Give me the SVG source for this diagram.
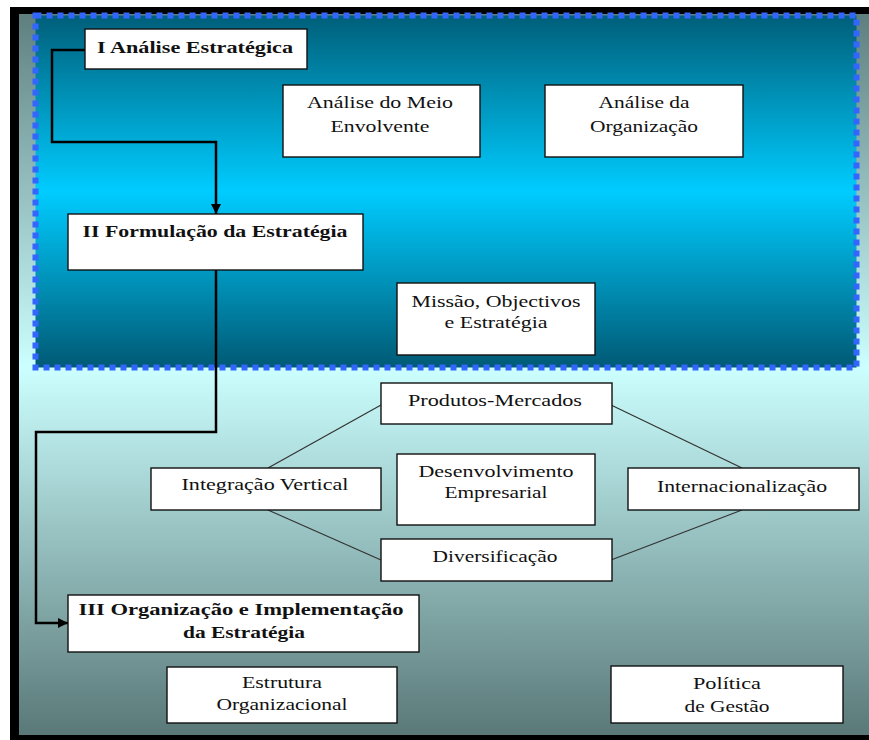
<svg xmlns="http://www.w3.org/2000/svg" width="869" height="740" viewBox="0 0 869 740">
<defs>
<linearGradient id="bg" x1="0" y1="14" x2="0" y2="735" gradientUnits="userSpaceOnUse">
<stop offset="0" stop-color="#5f7f7f"/>
<stop offset="0.49" stop-color="#ccffff"/>
<stop offset="1" stop-color="#5a7878"/>
</linearGradient>
<linearGradient id="top" x1="0" y1="16" x2="0" y2="367" gradientUnits="userSpaceOnUse">
<stop offset="0" stop-color="#005f7a"/>
<stop offset="0.5" stop-color="#00ccff"/>
<stop offset="1" stop-color="#005a75"/>
</linearGradient>
<marker id="arr" viewBox="0 0 10 10" refX="10" refY="5" markerWidth="10" markerHeight="10" markerUnits="userSpaceOnUse" orient="auto">
<path d="M0,0 L10,5 L0,10 Z" fill="#000"/>
</marker>
<style>
.box{fill:#fff;stroke:#111;stroke-width:1.4}
.t{font-size:17px;fill:#111;text-anchor:middle}
.b{font-weight:bold}
.flow{fill:none;stroke:#000;stroke-width:2.5}
.thin{fill:none;stroke:#333;stroke-width:1.2}
</style>
</defs>
<rect x="10" y="7" width="859" height="733" fill="#000"/>
<rect x="19" y="14" width="850" height="721" fill="url(#bg)"/>
<rect x="35.5" y="15.5" width="821" height="352" fill="url(#top)" stroke="#3366ff" stroke-width="6" stroke-dasharray="6 5"/>

<g id="connectors">
<path class="flow" d="M85,50 H52 V142 H216 V214" marker-end="url(#arr)"/>
<path class="flow" d="M216,269 V432 H36 V623 H68" marker-end="url(#arr)"/>
<line class="thin" x1="381" y1="405" x2="268" y2="468"/>
<line class="thin" x1="611" y1="405" x2="742" y2="468"/>
<line class="thin" x1="268" y1="510" x2="381" y2="560"/>
<line class="thin" x1="611" y1="560" x2="742" y2="510"/>
</g>

<g font-family="'Liberation Serif', 'DejaVu Serif', 'Times New Roman', serif">
<g id="n1"><rect class="box" x="85" y="29" width="222" height="40"/>
<text class="t b" x="195" y="53" textLength="196" lengthAdjust="spacingAndGlyphs">I Análise Estratégica</text></g>
<g id="n2"><rect class="box" x="283" y="85" width="197" height="72"/>
<text class="t" x="380" y="108" textLength="146" lengthAdjust="spacingAndGlyphs">Análise do Meio</text>
<text class="t" x="380" y="132" textLength="99" lengthAdjust="spacingAndGlyphs">Envolvente</text></g>
<g id="n3"><rect class="box" x="545" y="85" width="198" height="72"/>
<text class="t" x="644" y="108" textLength="91" lengthAdjust="spacingAndGlyphs">Análise da</text>
<text class="t" x="644" y="132" textLength="108" lengthAdjust="spacingAndGlyphs">Organização</text></g>
<g id="n4"><rect class="box" x="68" y="214" width="295" height="56"/>
<text class="t b" x="215" y="237" textLength="265" lengthAdjust="spacingAndGlyphs">II Formulação da Estratégia</text></g>
<g id="n5"><rect class="box" x="397" y="283" width="198" height="72"/>
<text class="t" x="496" y="307" textLength="169" lengthAdjust="spacingAndGlyphs">Missão, Objectivos</text>
<text class="t" x="496" y="328" textLength="103" lengthAdjust="spacingAndGlyphs">e Estratégia</text></g>
<g id="n6"><rect class="box" x="381" y="383" width="231" height="41"/>
<text class="t" x="495" y="406" textLength="174" lengthAdjust="spacingAndGlyphs">Produtos-Mercados</text></g>
<g id="n7"><rect class="box" x="151" y="468" width="230" height="42"/>
<text class="t" x="265" y="490" textLength="167" lengthAdjust="spacingAndGlyphs">Integração Vertical</text></g>
<g id="n8"><rect class="box" x="397" y="454" width="198" height="71"/>
<text class="t" x="496" y="477" textLength="155" lengthAdjust="spacingAndGlyphs">Desenvolvimento</text>
<text class="t" x="496" y="498" textLength="103" lengthAdjust="spacingAndGlyphs">Empresarial</text></g>
<g id="n9"><rect class="box" x="628" y="468" width="231" height="42"/>
<text class="t" x="742" y="492" textLength="170" lengthAdjust="spacingAndGlyphs">Internacionalização</text></g>
<g id="n10"><rect class="box" x="381" y="539" width="231" height="42"/>
<text class="t" x="495" y="562" textLength="125" lengthAdjust="spacingAndGlyphs">Diversificação</text></g>
<g id="n11"><rect class="box" x="68" y="595" width="351" height="57"/>
<text class="t b" x="241" y="615" textLength="325" lengthAdjust="spacingAndGlyphs">III Organização e Implementação</text>
<text class="t b" x="244" y="638" textLength="122" lengthAdjust="spacingAndGlyphs">da Estratégia</text></g>
<g id="n12"><rect class="box" x="167" y="667" width="230" height="56"/>
<text class="t" x="282" y="688" textLength="80" lengthAdjust="spacingAndGlyphs">Estrutura</text>
<text class="t" x="282" y="710" textLength="131" lengthAdjust="spacingAndGlyphs">Organizacional</text></g>
<g id="n13"><rect class="box" x="611" y="666" width="232" height="57"/>
<text class="t" x="727" y="689" textLength="68" lengthAdjust="spacingAndGlyphs">Política</text>
<text class="t" x="727" y="712" textLength="85" lengthAdjust="spacingAndGlyphs">de Gestão</text></g>
</g>
</svg>
